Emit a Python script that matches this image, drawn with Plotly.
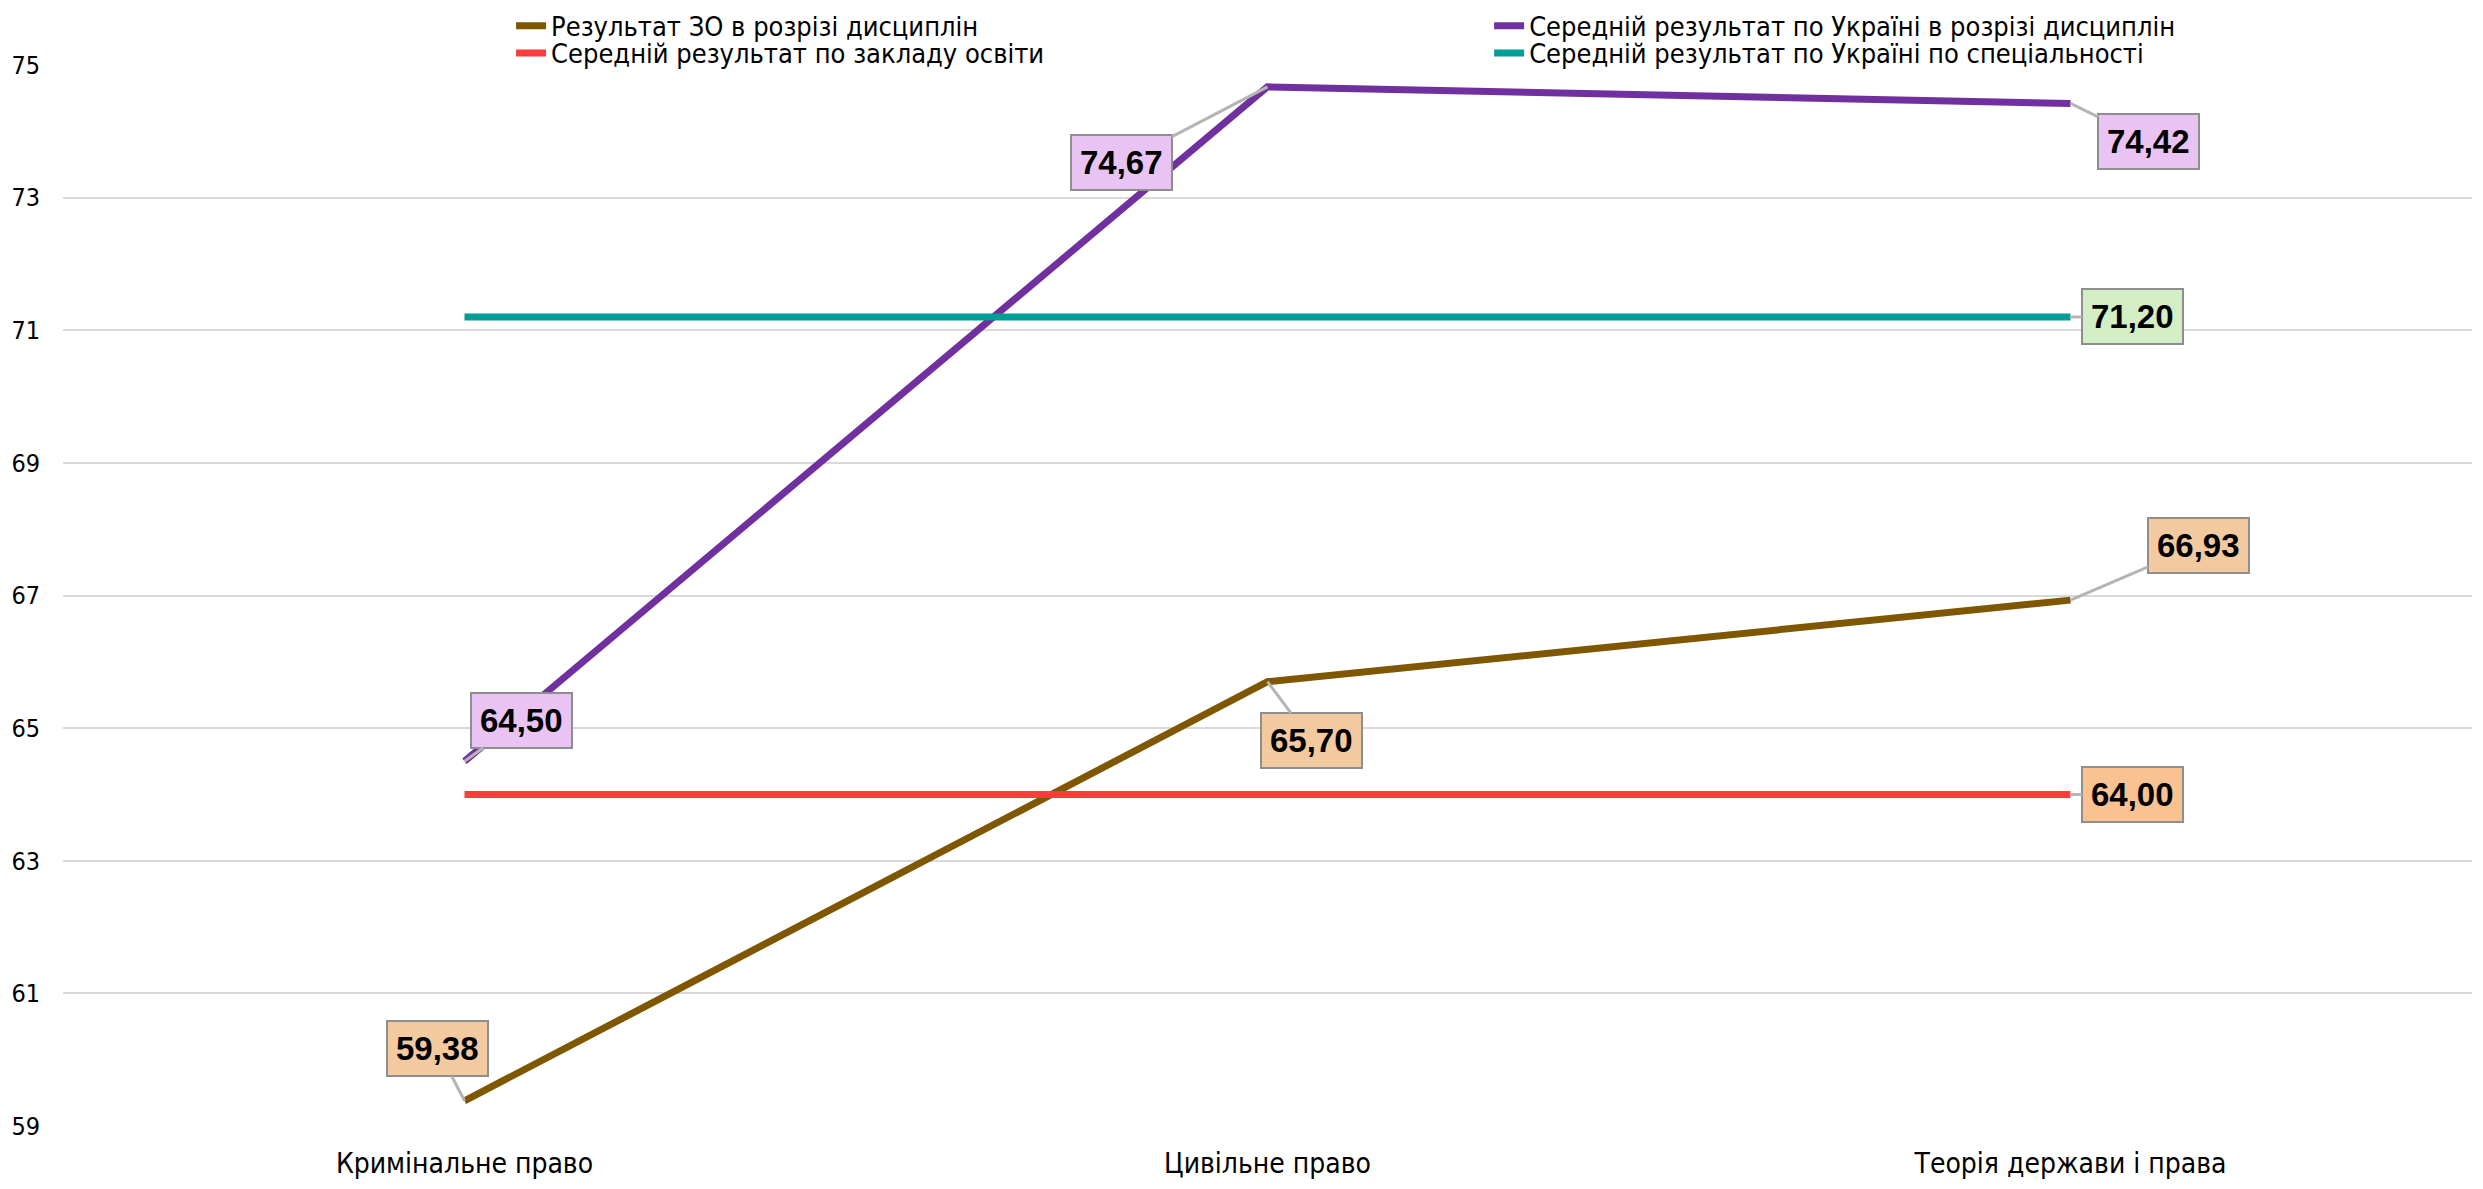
import plotly.graph_objects as go

categories = ["Кримінальне право", "Цивільне право", "Теорія держави і права"]
zo_values = [59.38, 65.70, 66.93]
ukr_disc_values = [64.50, 74.67, 74.42]
school_values = [64.00, 64.00, 64.00]
ukr_spec_values = [71.20, 71.20, 71.20]
series_names = [
    "Результат ЗО в розрізі дисциплін",
    "Середній результат по Україні в розрізі дисциплін",
    "Середній результат по закладу освіти",
    "Середній результат по Україні по спеціальності",
]
y_ticks = [59, 61, 63, 65, 67, 69, 71, 73, 75]

FONT = "Liberation Sans Narrow, DejaVu Sans Condensed, Liberation Sans, sans-serif"
colors = ["#7F5700", "#7030A0", "#FF3B3B", "#009E96"]
all_values = [zo_values, ukr_disc_values, school_values, ukr_spec_values]
legend_ids = ["legend", "legend2", "legend3", "legend4"]

fig = go.Figure()
for name, vals, col, lg in zip(series_names, all_values, colors, legend_ids):
    fig.add_trace(go.Scatter(
        x=categories, y=vals, name=name, mode="lines",
        line=dict(color=col, width=7), legend=lg,
    ))

def fmt(v):
    return f"{v:.2f}".replace(".", ",")

# (series index, point index, dx, dy, bgcolor)
label_specs = [
    (0, 0, -27, -52, "#F3C9A0"),
    (0, 1, 44, 59, "#F3C9A0"),
    (0, 2, 128, -55, "#F3C9A0"),
    (1, 0, 57, -41, "#E9C3F2"),
    (1, 1, -146, 76, "#E9C3F2"),
    (1, 2, 78, 38, "#E9C3F2"),
    (3, 2, 62, 0, "#D3EDC5"),
    (2, 2, 62, 0, "#FAC191"),
]
for si, pi, dx, dy, bg in label_specs:
    v = all_values[si][pi]
    fig.add_annotation(
        x=categories[pi], y=v, ax=dx, ay=dy, xref="x", yref="y",
        text=f"<b>{fmt(v)}</b>", showarrow=True, arrowhead=0,
        arrowwidth=3, arrowcolor="#B5B5B5", standoff=0,
        bgcolor=bg, bordercolor="#8E8E8E", borderwidth=2, borderpad=8,
        font=dict(family="Liberation Sans, Arial, sans-serif", size=33, color="#000000"),
    )

legend_common = dict(
    orientation="v", xanchor="left", yanchor="middle",
    font=dict(family=FONT, size=27, color="#000000"),
    bgcolor="rgba(0,0,0,0)", tracegroupgap=0, itemwidth=30,
)

fig.update_layout(
    width=2475, height=1181,
    margin=dict(l=55, r=11, t=57, b=63, autoexpand=False),
    paper_bgcolor="white", plot_bgcolor="white",
    font=dict(family=FONT, size=28, color="#000000"),
    showlegend=True,
    legend=dict(x=0.186, y=1.0365, **legend_common),
    legend2=dict(x=0.592, y=1.0365, **legend_common),
    legend3=dict(x=0.186, y=1.0110, **legend_common),
    legend4=dict(x=0.592, y=1.0110, **legend_common),
    xaxis=dict(
        range=[-0.5, 2.5],
        showgrid=False, zeroline=False, showline=False,
        ticks="", ticklabelstandoff=18,
        tickfont=dict(family=FONT, size=28),
    ),
    yaxis=dict(
        range=[59, 75], tickvals=y_ticks, ticktext=[str(t) for t in y_ticks],
        showgrid=True, gridcolor="#D9D9D9", gridwidth=2,
        zeroline=False, showline=False, ticks="", ticklabelstandoff=22,
        tickfont=dict(family=FONT, size=25),
    ),
)

fig.write_html("out.html")
